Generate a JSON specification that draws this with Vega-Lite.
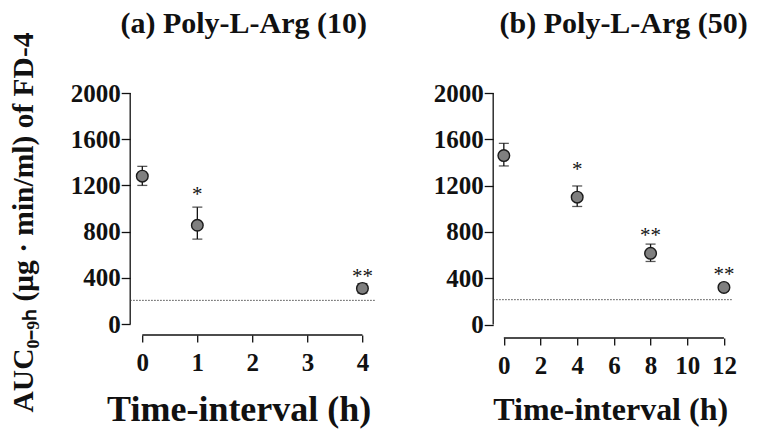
{
  "$schema": "https://vega.github.io/schema/vega-lite/v6.json",
  "padding": {"left": 8.2, "top": 8, "right": 5, "bottom": 5},
  "background": "white",
  "bounds": "flush",
  "spacing": 117,
  "config": {
    "view": {"stroke": null},
    "font": "Liberation Serif",
    "axis": {"domain": false, "grid": false, "tickColor": "#111", "tickWidth": 1.3, "labelColor": "#111", "labelFont": "Liberation Serif", "labelFontWeight": "bold", "labelFontSize": 25, "titleColor": "#111", "titleFont": "Liberation Serif", "titleFontWeight": "bold", "labelFlush": false, "labelOverlap": false}
  },
  "datasets": {
    "a_pts": [{"t": 0, "v": 1280, "lo": 1200, "hi": 1365}, {"t": 1, "v": 855, "lo": 735, "hi": 1012}, {"t": 4, "v": 308, "lo": 268, "hi": 350}],
    "a_sig": [{"t": 1, "v": 1150, "label": "*"}, {"t": 4, "v": 446, "label": "**"}],
    "a_base": [{"t": -0.22, "t2": 4.25, "v": 205}],
    "a_axes": [{"t": -0.22, "t2": -0.22, "v": 0, "v2": 2000}, {"t": 0, "t2": 4, "v": -95, "v2": -95}],
    "b_pts": [{"t": 0, "v": 1460, "lo": 1370, "hi": 1565}, {"t": 4, "v": 1100, "lo": 1020, "hi": 1197}, {"t": 8, "v": 615, "lo": 545, "hi": 695}, {"t": 12, "v": 321, "lo": 290, "hi": 352}],
    "b_sig": [{"t": 4, "v": 1369, "label": "*"}, {"t": 8, "v": 803, "label": "**"}, {"t": 12, "v": 464, "label": "**"}],
    "b_base": [{"t": -0.58, "t2": 12.45, "v": 215}],
    "b_axes": [{"t": -0.58, "t2": -0.58, "v": 0, "v2": 2000}, {"t": 0, "t2": 12, "v": -116, "v2": -116}]
  },
  "hconcat": [
    {
      "width": 246,
      "height": 242,
      "title": {"text": "(a) Poly-L-Arg (10)", "fontSize": 30, "font": "Liberation Serif", "fontWeight": "bold", "color": "#111", "frame": "group", "anchor": "middle", "offset": -31, "baseline": "alphabetic", "dx": -9.5},
      "encoding": {
        "x": {"field": "t", "type": "quantitative", "scale": {"domain": [-0.22, 4.25], "nice": false, "zero": false},
          "axis": {"values": [0, 1, 2, 3, 4], "format": "d", "tickSize": 7, "labelPadding": 9, "title": "Time-interval (h)", "titleFontSize": 36, "titleX": 108.5, "titleY": 86, "titleBaseline": "alphabetic", "titleAlign": "center"}},
        "y": {"field": "v", "type": "quantitative", "scale": {"domain": [-95, 2000], "nice": false, "zero": false},
          "axis": {"values": [0, 400, 800, 1200, 1600, 2000], "format": "d", "tickSize": 9, "labelPadding": 1, "title": "AUC₀₋₉ₕ (μg · min/ml) of FD-4", "titleFontSize": 29.5, "titleAngle": 270, "titleX": -97.5, "titleY": 129, "titleBaseline": "alphabetic", "titleAlign": "center"}}
      },
      "layer": [
        {
          "data": {"name": "a_axes"},
          "mark": {"type": "rule", "color": "#111", "strokeWidth": 1.3},
          "encoding": {"x2": {"field": "t2"}, "y2": {"field": "v2"}}
        },
        {
          "data": {"name": "a_base"},
          "mark": {"type": "rule", "color": "#444", "strokeWidth": 1, "strokeDash": [1.5, 1.5]},
          "encoding": {"x2": {"field": "t2"}}
        },
        {
          "data": {"name": "a_pts"},
          "mark": {"type": "rule", "color": "#111", "strokeWidth": 1.3},
          "encoding": {"y": {"field": "lo", "type": "quantitative"}, "y2": {"field": "hi"}}
        },
        {
          "data": {"name": "a_pts"},
          "mark": {"type": "tick", "orient": "horizontal", "color": "#111", "size": 10, "thickness": 1.3},
          "encoding": {"y": {"field": "hi", "type": "quantitative"}}
        },
        {
          "data": {"name": "a_pts"},
          "mark": {"type": "tick", "orient": "horizontal", "color": "#111", "size": 10, "thickness": 1.3},
          "encoding": {"y": {"field": "lo", "type": "quantitative"}}
        },
        {
          "data": {"name": "a_pts"},
          "mark": {"type": "point", "shape": "circle", "filled": true, "size": 135, "fill": "#7f7f7f", "stroke": "#1a1a1a", "strokeWidth": 1.4, "opacity": 1}
        },
        {
          "data": {"name": "a_sig"},
          "mark": {"type": "text", "font": "Liberation Serif", "fontSize": 21, "color": "#111", "baseline": "middle", "dy": 4},
          "encoding": {"text": {"field": "label"}}
        }
      ]
    },
    {
      "width": 239,
      "height": 245,
      "title": {"text": "(b) Poly-L-Arg (50)", "fontSize": 30, "font": "Liberation Serif", "fontWeight": "bold", "color": "#111", "frame": "group", "anchor": "middle", "offset": 18, "baseline": "alphabetic", "dx": 11},
      "encoding": {
        "x": {"field": "t", "type": "quantitative", "scale": {"domain": [-0.58, 12.45], "nice": false, "zero": false},
          "axis": {"values": [0, 2, 4, 6, 8, 10, 12], "format": "d", "tickSize": 7, "labelPadding": 9, "title": "Time-interval (h)", "titleFontSize": 32, "titleX": 117, "titleY": 82, "titleBaseline": "alphabetic", "titleAlign": "center"}},
        "y": {"field": "v", "type": "quantitative", "scale": {"domain": [-116, 2000], "nice": false, "zero": false},
          "axis": {"values": [0, 400, 800, 1200, 1600, 2000], "format": "d", "tickSize": 9, "labelPadding": 1, "title": null}}
      },
      "layer": [
        {
          "data": {"name": "b_axes"},
          "mark": {"type": "rule", "color": "#111", "strokeWidth": 1.3},
          "encoding": {"x2": {"field": "t2"}, "y2": {"field": "v2"}}
        },
        {
          "data": {"name": "b_base"},
          "mark": {"type": "rule", "color": "#444", "strokeWidth": 1, "strokeDash": [1.5, 1.5]},
          "encoding": {"x2": {"field": "t2"}}
        },
        {
          "data": {"name": "b_pts"},
          "mark": {"type": "rule", "color": "#111", "strokeWidth": 1.3},
          "encoding": {"y": {"field": "lo", "type": "quantitative"}, "y2": {"field": "hi"}}
        },
        {
          "data": {"name": "b_pts"},
          "mark": {"type": "tick", "orient": "horizontal", "color": "#111", "size": 10, "thickness": 1.3},
          "encoding": {"y": {"field": "hi", "type": "quantitative"}}
        },
        {
          "data": {"name": "b_pts"},
          "mark": {"type": "tick", "orient": "horizontal", "color": "#111", "size": 10, "thickness": 1.3},
          "encoding": {"y": {"field": "lo", "type": "quantitative"}}
        },
        {
          "data": {"name": "b_pts"},
          "mark": {"type": "point", "shape": "circle", "filled": true, "size": 135, "fill": "#7f7f7f", "stroke": "#1a1a1a", "strokeWidth": 1.4, "opacity": 1}
        },
        {
          "data": {"name": "b_sig"},
          "mark": {"type": "text", "font": "Liberation Serif", "fontSize": 21, "color": "#111", "baseline": "middle", "dy": 4},
          "encoding": {"text": {"field": "label"}}
        }
      ]
    }
  ]
}
